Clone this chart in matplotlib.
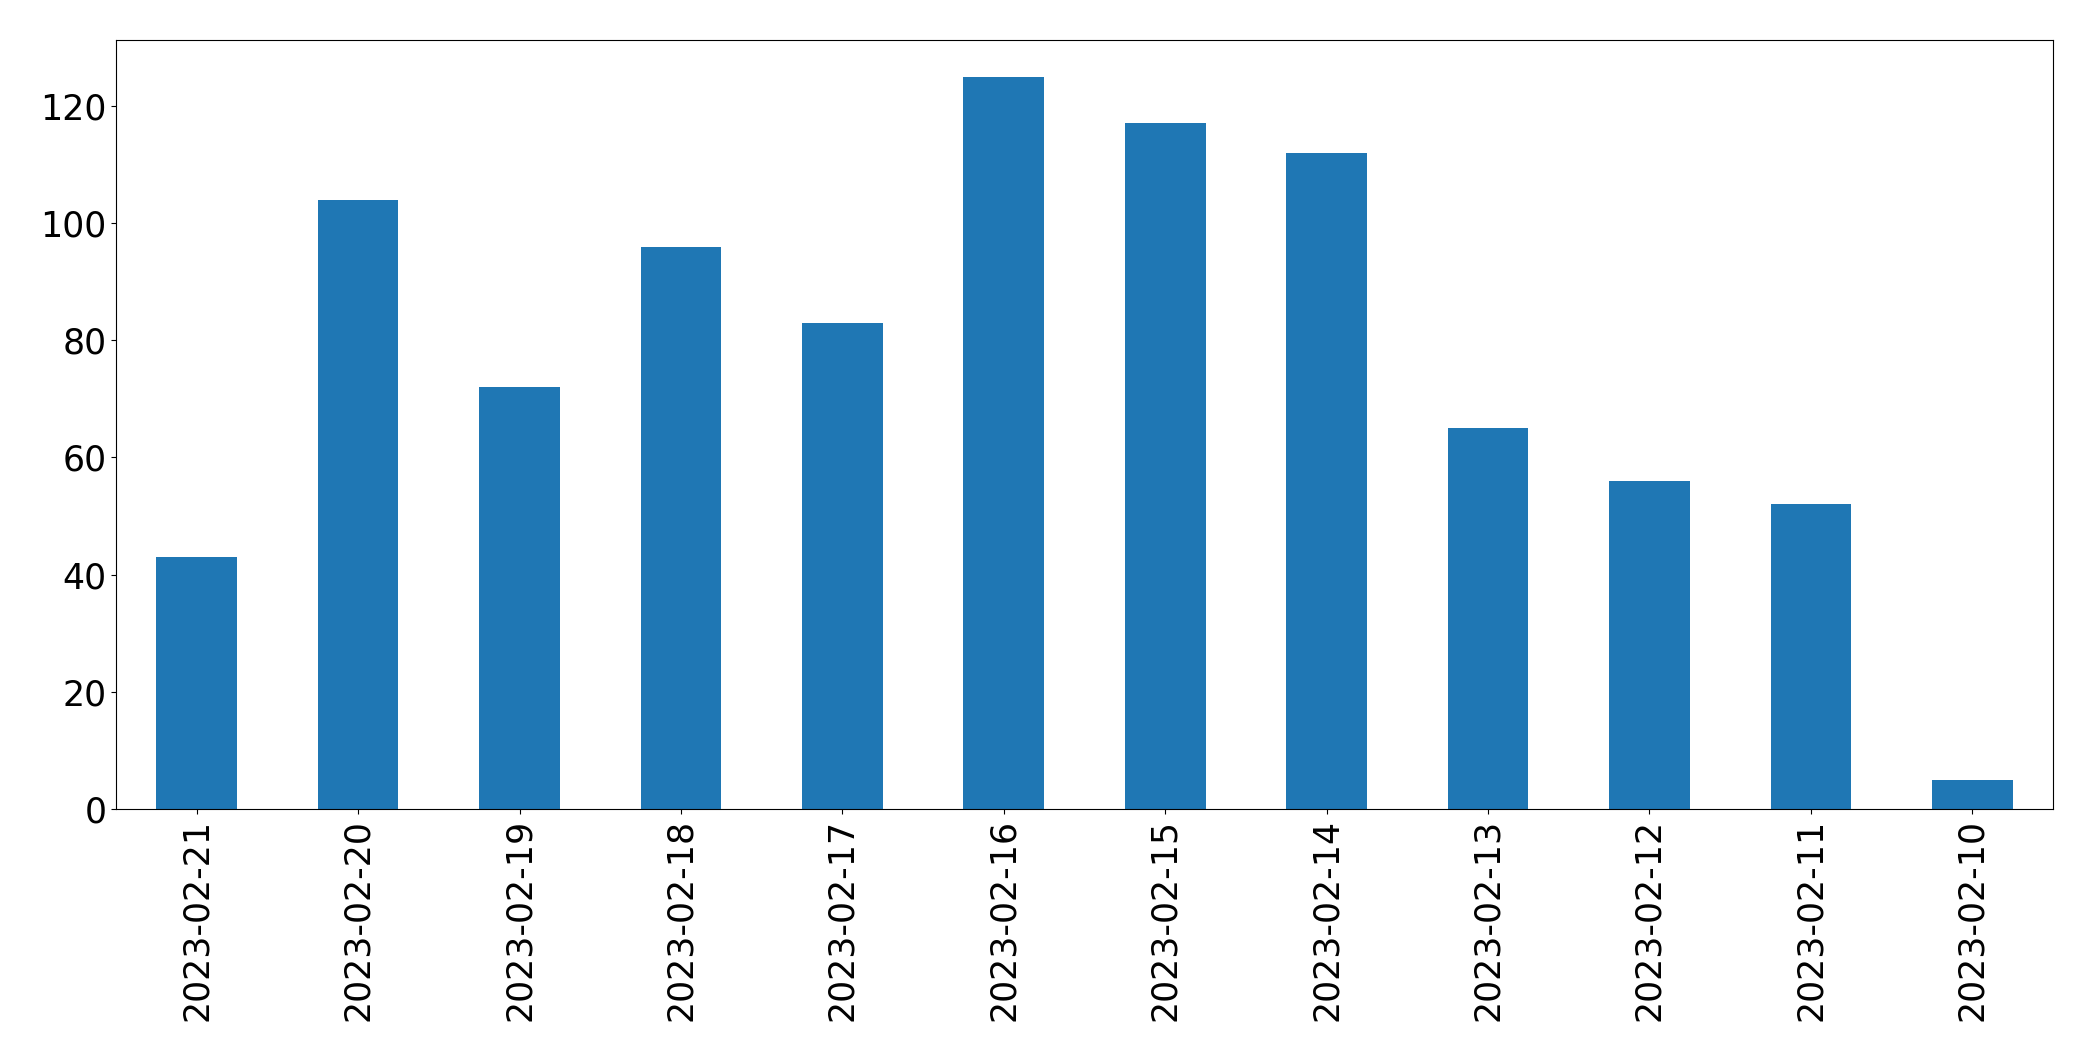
import matplotlib
matplotlib.use("Agg")
import matplotlib.pyplot as plt
import numpy as np

dates = ["2023-02-21", "2023-02-20", "2023-02-19", "2023-02-18", "2023-02-17",
         "2023-02-16", "2023-02-15", "2023-02-14", "2023-02-13", "2023-02-12",
         "2023-02-11", "2023-02-10"]
counts = [43, 104, 72, 96, 83, 125, 117, 112, 65, 56, 52, 5]

fig = plt.figure(figsize=(20.93, 10.61), dpi=100)
ax = fig.add_axes([116 / 2093, 1 - 809 / 1061, (2053 - 116) / 2093, (809 - 40) / 1061])

x = np.arange(len(dates))
ax.bar(x, counts, width=0.5, color="#1f77b4")
ax.set_xticks(x)
ax.set_xticklabels(dates, rotation=90)
ax.set_xlim(-0.5, len(dates) - 0.5)
ax.set_ylim(0, max(counts) * 1.05)
ax.tick_params(labelsize=25)

fig.savefig("out.png", dpi=100)
